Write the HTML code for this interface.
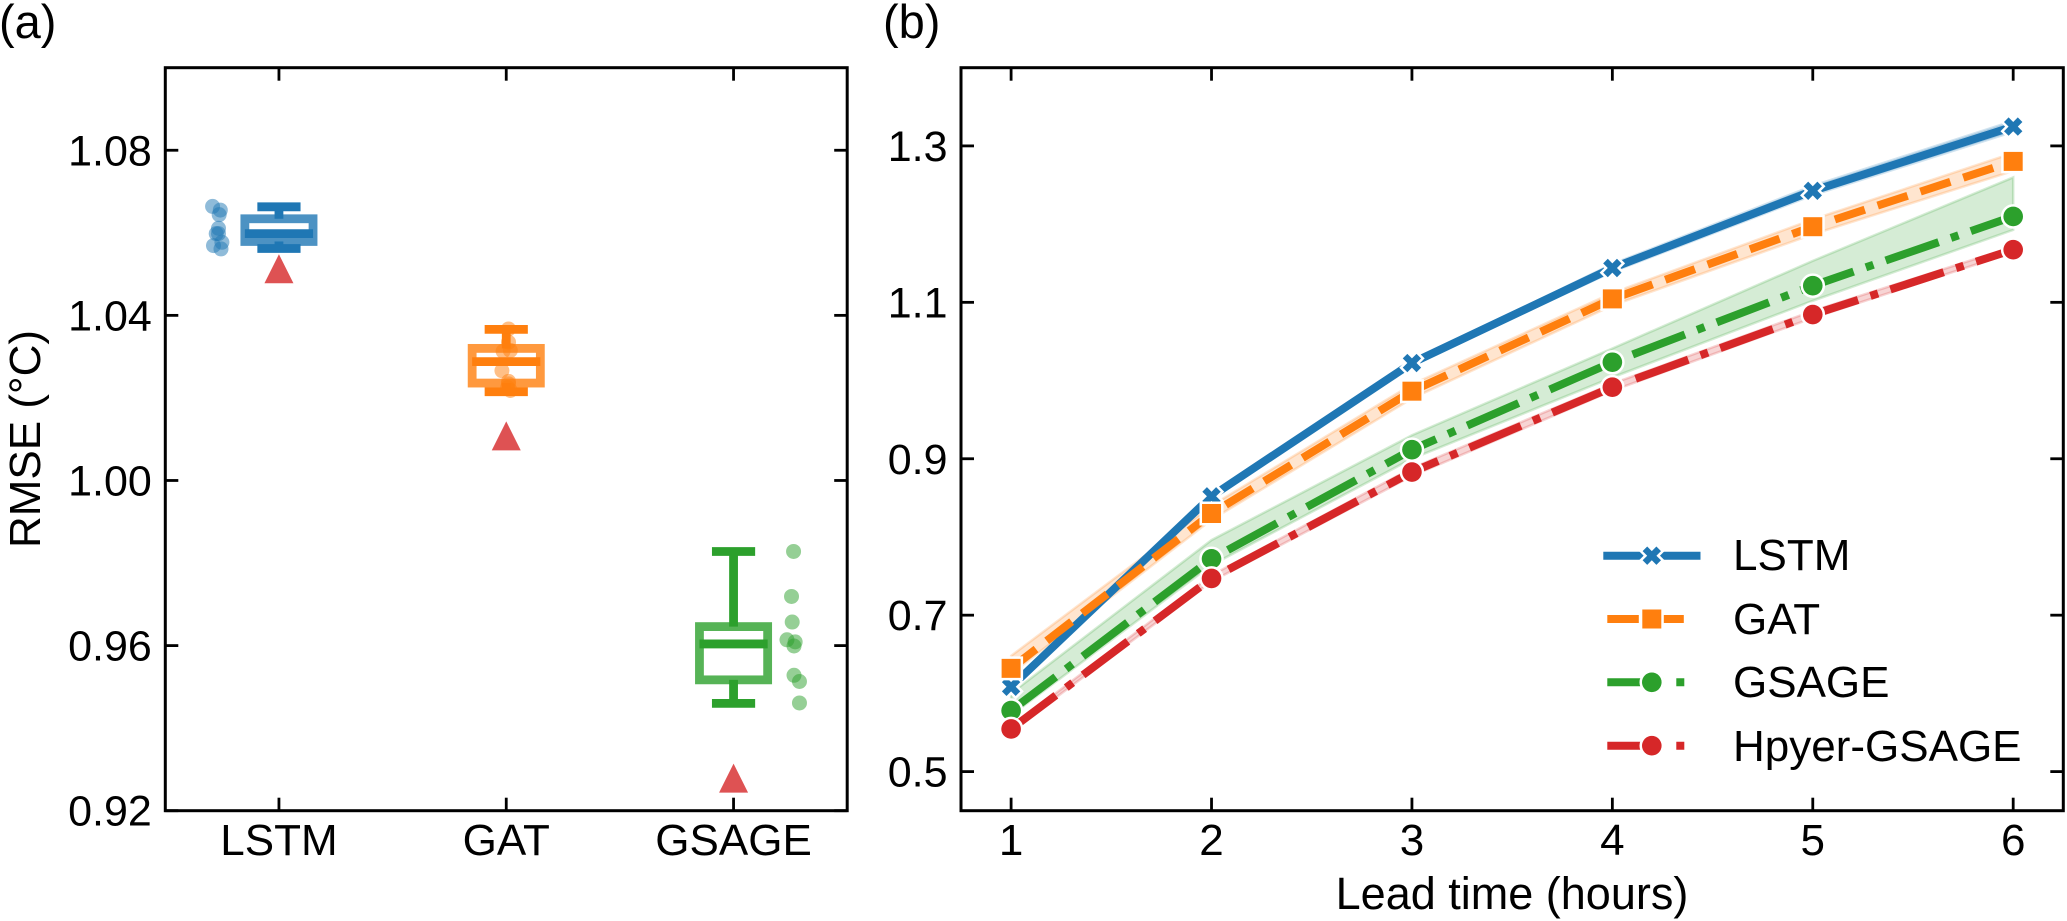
<!DOCTYPE html>
<html lang="en">
<head>
<meta charset="utf-8">
<title>RMSE comparison and lead time chart</title>
<style>
html,body{margin:0;padding:0;background:#fff;}
svg{display:block;}
text{font-family:"Liberation Sans",Arial,sans-serif;font-size:43px;fill:#000;}
.lab{font-size:44px;}
.panel{font-size:47px;}
</style>
</head>
<body>
<svg id="chart" xmlns="http://www.w3.org/2000/svg" width="2067" height="921" viewBox="0 0 2067 921">
  <rect x="0" y="0" width="2067" height="921" fill="#fff"/>
  <text class="panel" x="-1" y="38">(a)</text>
  <text class="panel" x="883" y="38">(b)</text>
  <text class="lab" text-anchor="middle" transform="translate(40 439) rotate(-90)">RMSE (°C)</text>
  <text text-anchor="middle" x="1512" y="909" style="font-size:45px">Lead time (hours)</text>
  <g id="panelA"></g>
  <g id="panelB"></g>
  <g id="legend">
    <text class="lab" x="1733" y="570">LSTM</text>
    <text class="lab" x="1733" y="634">GAT</text>
    <text class="lab" x="1733" y="697">GSAGE</text>
    <text class="lab" x="1733" y="761">Hpyer-GSAGE</text>
  </g>
</svg>
<script>
// ---- Panel (a) data ----
const boxCategories = ['LSTM', 'GAT', 'GSAGE'];
const boxQ1 = [1.0579, 1.0236, 0.9517];
const boxMedian = [1.0598, 1.0288, 0.9604];
const boxQ3 = [1.0634, 1.0320, 0.9646];
const whiskerLow = [1.0562, 1.0215, 0.9460];
const whiskerHigh = [1.0663, 1.0366, 0.9828];
const boxMean = [1.0513, 1.0108, 0.9279];
const stripLstm = [1.0664, 1.0655, 1.0644, 1.0611, 1.0598, 1.0598, 1.0569, 1.0577, 1.0561];
const stripLstmJitter = [-0.292, -0.258, -0.263, -0.266, -0.276, -0.266, -0.288, -0.251, -0.255];
const stripGat = [1.0367, 1.0335, 1.0313, 1.0315, 1.0266, 1.0240, 1.0234, 1.0225, 1.0218];
const stripGatJitter = [0.01, 0.01, -0.014, 0.018, -0.019, 0.01, 0.01, 0.006, 0.018];
const stripGsage = [0.9828, 0.9719, 0.9657, 0.9614, 0.9609, 0.9599, 0.9528, 0.9513, 0.9461];
const stripGsageJitter = [0.264, 0.255, 0.258, 0.235, 0.271, 0.266, 0.266, 0.29, 0.29];
const yTicksA = [0.92, 0.96, 1.00, 1.04, 1.08];
const yTickLabelsA = ['0.92', '0.96', '1.00', '1.04', '1.08'];

// ---- Panel (b) data ----
const leadTimes = [1, 2, 3, 4, 5, 6];
const lstmRmse = [0.6085, 0.852, 1.0224, 1.1439, 1.2426, 1.3247];
const lstmUpper = [0.610, 0.853, 1.024, 1.149, 1.249, 1.332];
const lstmLower = [0.607, 0.851, 1.021, 1.139, 1.237, 1.318];
const gatRmse = [0.632, 0.83, 0.9864, 1.1044, 1.1967, 1.2802];
const gatUpper = [0.648, 0.840, 0.995, 1.112, 1.206, 1.291];
const gatLower = [0.625, 0.822, 0.977, 1.096, 1.187, 1.268];
const gsageRmse = [0.578, 0.772, 0.9116, 1.0234, 1.1213, 1.2098];
const gsageUpper = [0.600, 0.796, 0.930, 1.041, 1.153, 1.2597];
const gsageLower = [0.572, 0.764, 0.900, 1.004, 1.102, 1.1926];
const hyperRmse = [0.5545, 0.747, 0.883, 0.9915, 1.0843, 1.1673];
const hyperUpper = [0.557, 0.751, 0.888, 0.996, 1.089, 1.171];
const hyperLower = [0.552, 0.743, 0.878, 0.987, 1.080, 1.164];
const xTicksB = [1, 2, 3, 4, 5, 6];
const yTicksB = [0.5, 0.7, 0.9, 1.1, 1.3];
const yTickLabelsB = ['0.5', '0.7', '0.9', '1.1', '1.3'];

// ---- Axis functions ----
const AX = {l: 165.3, r: 847.2, t: 67.7, b: 810.7};
const BX = {l: 961, r: 2063.3, t: 67.7, b: 810.7};
function xA(v) { return AX.l + (v + 0.5) / 3 * (AX.r - AX.l); }
function yA(v) { return AX.b - (v - 0.92) / 0.18 * (AX.b - AX.t); }
function xB(v) { return BX.l + (v - 0.75) / 5.5 * (BX.r - BX.l); }
function yB(v) { return BX.b - (v - 0.45) / 0.95 * (BX.b - BX.t); }

const NS = 'http://www.w3.org/2000/svg';
function mk(tag, attrs, parent) {
  const el = document.createElementNS(NS, tag);
  for (const k in attrs) el.setAttribute(k, attrs[k]);
  parent.appendChild(el);
  return el;
}
function pts(list) { return list.map(function (p) { return p[0].toFixed(2) + ',' + p[1].toFixed(2); }).join(' '); }

function drawMarker(kind, cx, cy, color, parent, name) {
  let el;
  const base = {fill: color, stroke: '#fff', 'stroke-width': 5, 'paint-order': 'stroke', 'stroke-linejoin': 'miter'};
  if (kind === 'square') {
    el = mk('rect', Object.assign({x: cx - 9.5, y: cy - 9.5, width: 19, height: 19}, base), parent);
  } else if (kind === 'circle') {
    el = mk('circle', Object.assign({cx: cx, cy: cy, r: 9.8}, base), parent);
  } else {
    const u = 4.6;
    const shape = [[-1,-2],[0,-1],[1,-2],[2,-1],[1,0],[2,1],[1,2],[0,1],[-1,2],[-2,1],[-1,0],[-2,-1]];
    el = mk('polygon', Object.assign({points: pts(shape.map(function (s) { return [cx + s[0] * u, cy + s[1] * u]; }))}, base), parent);
  }
  
  
  return el;
}

function drawFrame(box, parent, prefix) {
  const frame = mk('rect', {x: box.l, y: box.t, width: box.r - box.l, height: box.b - box.t, fill: 'none', stroke: '#000', 'stroke-width': 3}, parent);
  
  
}
function drawXTick(px, box, label, parent, prefix) {
  const top = mk('line', {x1: px, x2: px, y1: box.t, y2: box.t + 13, stroke: '#000', 'stroke-width': 2.8}, parent);
  
  
  const bottom = mk('line', {x1: px, x2: px, y1: box.b, y2: box.b - 13, stroke: '#000', 'stroke-width': 2.8}, parent);
  
  
  const t = mk('text', {x: px, y: 855, 'text-anchor': 'middle', class: 'lab'}, parent);
  
  
  t.textContent = label;
}
function drawYTick(py, box, label, parent, prefix) {
  const left = mk('line', {x1: box.l, x2: box.l + 13, y1: py, y2: py, stroke: '#000', 'stroke-width': 2.8}, parent);
  
  
  const right = mk('line', {x1: box.r, x2: box.r - 13, y1: py, y2: py, stroke: '#000', 'stroke-width': 2.8}, parent);
  
  
  const t = mk('text', {x: box.l - 13.5, y: py + 15, 'text-anchor': 'end'}, parent);
  
  
  t.textContent = label;
}

// ---- Draw panel (a) ----
const gA = document.getElementById('panelA');
const boxColors = ['#1f77b4', '#ff7f0e', '#2ca02c'];
const stripValues = [stripLstm, stripGat, stripGsage];
const stripJitter = [stripLstmJitter, stripGatJitter, stripGsageJitter];
const SW = 8.8;
boxCategories.forEach(function (cat, i) {
  const key = cat.toLowerCase();
  const c = boxColors[i];
  const group = mk('g', {}, gA);
  
  

  stripValues[i].forEach(function (v, j) {
    const dot = mk('circle', {cx: xA(i + stripJitter[i][j]), cy: yA(v), r: 7.5, fill: c, 'fill-opacity': 0.5}, group);
    
    
  });

  const hw = 0.15 * (xA(1) - xA(0));
  const capW = 0.095 * (xA(1) - xA(0));
  const cx = xA(i);
  const rect = mk('rect', {x: cx - hw, y: yA(boxQ3[i]), width: 2 * hw, height: yA(boxQ1[i]) - yA(boxQ3[i]), fill: 'none', stroke: c, 'stroke-opacity': 0.8, 'stroke-width': SW}, group);
  
  

  const med = mk('line', {x1: cx - hw, x2: cx + hw, y1: yA(boxMedian[i]), y2: yA(boxMedian[i]), stroke: c, 'stroke-width': SW}, group);
  
  

  const wHi = mk('line', {x1: cx, x2: cx, y1: yA(boxQ3[i]), y2: yA(whiskerHigh[i]), stroke: c, 'stroke-width': SW}, group);
  
  
  const wLo = mk('line', {x1: cx, x2: cx, y1: yA(boxQ1[i]), y2: yA(whiskerLow[i]), stroke: c, 'stroke-width': SW}, group);
  
  
  const capHi = mk('line', {x1: cx - capW, x2: cx + capW, y1: yA(whiskerHigh[i]), y2: yA(whiskerHigh[i]), stroke: c, 'stroke-width': SW}, group);
  
  
  const capLo = mk('line', {x1: cx - capW, x2: cx + capW, y1: yA(whiskerLow[i]), y2: yA(whiskerLow[i]), stroke: c, 'stroke-width': SW}, group);
  
  

  const my = yA(boxMean[i]);
  const tri = mk('polygon', {points: pts([[cx, my - 14.5], [cx + 14.5, my + 14.5], [cx - 14.5, my + 14.5]]), fill: '#d62728', 'fill-opacity': 0.8}, group);
  
  

  drawXTick(cx, AX, cat, gA, 'panel-a');
});
yTicksA.forEach(function (v, i) { drawYTick(yA(v), AX, yTickLabelsA[i], gA, 'panel-a'); });
drawFrame(AX, gA, 'panel-a');

// ---- Draw panel (b) ----
const gB = document.getElementById('panelB');
const seriesNames = ['lstm', 'gat', 'gsage', 'hyper-gsage'];
const seriesColors = ['#1f77b4', '#ff7f0e', '#2ca02c', '#d62728'];
const seriesValues = [lstmRmse, gatRmse, gsageRmse, hyperRmse];
const seriesUpper = [lstmUpper, gatUpper, gsageUpper, hyperUpper];
const seriesLower = [lstmLower, gatLower, gsageLower, hyperLower];
const seriesDash = ['none', '31.5 13.5', '56 13 8 13', '56 13 8 13'];
const seriesCap = ['square', 'butt', 'butt', 'butt'];
const seriesMarkers = ['x', 'square', 'circle', 'circle'];

seriesNames.forEach(function (name, s) {
  const up = leadTimes.map(function (t, i) { return [xB(t), yB(seriesUpper[s][i])]; });
  const lo = leadTimes.map(function (t, i) { return [xB(t), yB(seriesLower[s][i])]; }).reverse();
  const band = mk('polygon', {points: pts(up.concat(lo)), fill: seriesColors[s], 'fill-opacity': 0.2, stroke: seriesColors[s], 'stroke-opacity': 0.2, 'stroke-width': 2.5}, gB);
  
  
});
seriesNames.forEach(function (name, s) {
  const p = leadTimes.map(function (t, i) { return [xB(t), yB(seriesValues[s][i])]; });
  const line = mk('polyline', {points: pts(p), fill: 'none', stroke: seriesColors[s], 'stroke-width': 8, 'stroke-dasharray': seriesDash[s], 'stroke-linecap': seriesCap[s], 'stroke-linejoin': 'round'}, gB);
  
  
  p.forEach(function (q) { drawMarker(seriesMarkers[s], q[0], q[1], seriesColors[s], gB, 'point-' + name); });
});
xTicksB.forEach(function (v) { drawXTick(xB(v), BX, String(v), gB, 'panel-b'); });
yTicksB.forEach(function (v, i) { drawYTick(yB(v), BX, yTickLabelsB[i], gB, 'panel-b'); });
drawFrame(BX, gB, 'panel-b');

// ---- Legend handles ----
const gL = document.getElementById('legend');
const legendRowY = [555.7, 619, 682.3, 745.7];
seriesNames.forEach(function (name, s) {
  const ly = legendRowY[s];
  const handle = mk('line', {x1: 1607.3, x2: 1696.5, y1: ly, y2: ly, stroke: seriesColors[s], 'stroke-width': 8, 'stroke-dasharray': seriesDash[s], 'stroke-linecap': seriesCap[s]}, gL);
  
  
  drawMarker(seriesMarkers[s], 1651.8, ly, seriesColors[s], gL, 'legend-marker-' + name);
});
</script>
</body>
</html>
